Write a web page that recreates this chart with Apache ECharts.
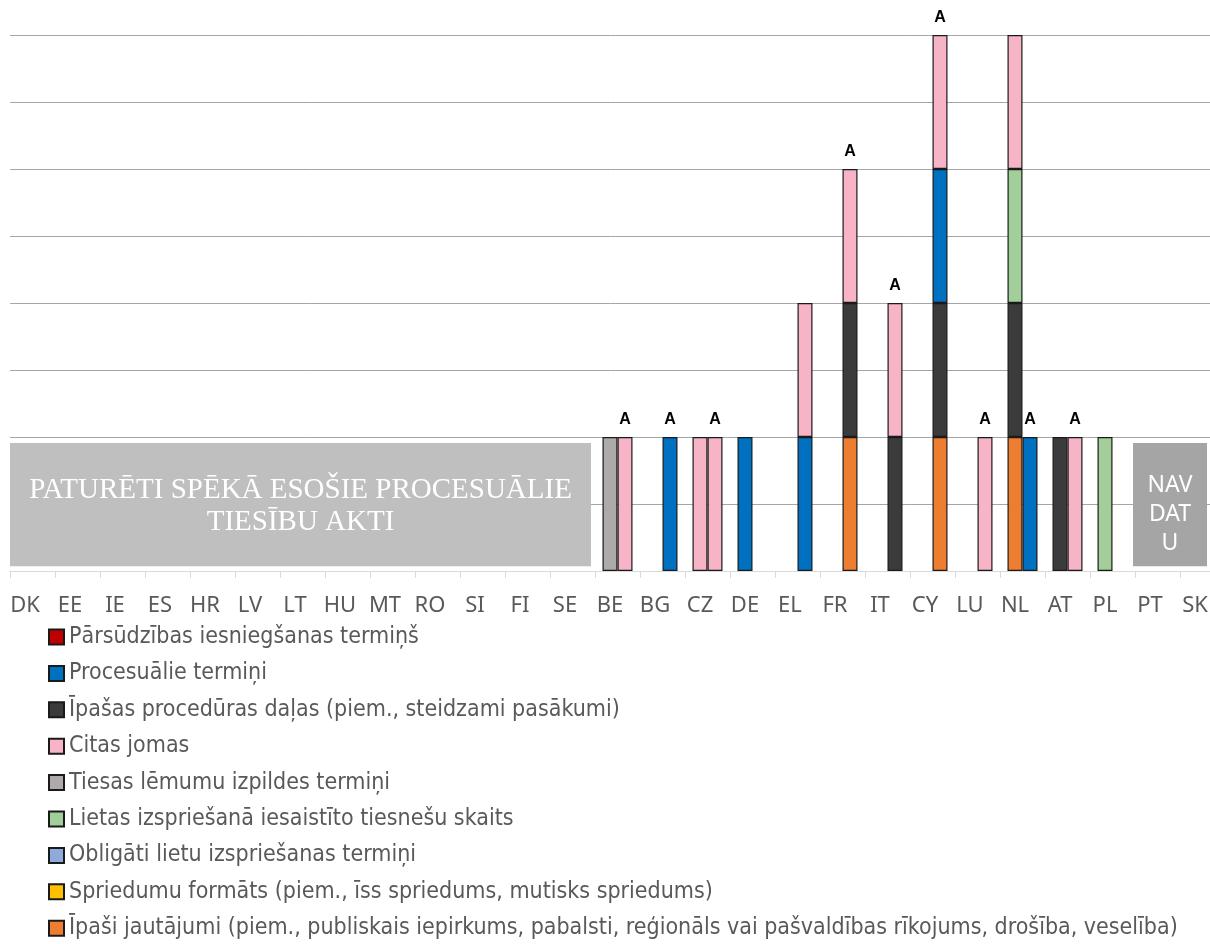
<!DOCTYPE html>
<html>
<head>
<meta charset="utf-8">
<script src="https://cdn.jsdelivr.net/npm/echarts@6/dist/echarts.min.js"></script>
<style>
  html, body { margin: 0; padding: 0; background: #fff; }
  #chart { width: 1210px; height: 944px; }
</style>
</head>
<body>
<div id="chart"></div>
<script>
// Member states along the category axis
const countries = ['DK','EE','IE','ES','HR','LV','LT','HU','MT','RO','SI','FI','SE',
                   'BE','BG','CZ','DE','EL','FR','IT','CY','LU','NL','AT','PL','PT','SK'];

// Measure types (legend order)
const measureNames = [
  'Pārsūdzības iesniegšanas termiņš',
  'Procesuālie termiņi',
  'Īpašas procedūras daļas (piem., steidzami pasākumi)',
  'Citas jomas',
  'Tiesas lēmumu izpildes termiņi',
  'Lietas izspriešanā iesaistīto tiesnešu skaits',
  'Obligāti lietu izspriešanas termiņi',
  'Spriedumu formāts (piem., īss spriedums, mutisks spriedums)',
  'Īpaši jautājumi (piem., publiskais iepirkums, pabalsti, reģionāls vai pašvaldības rīkojums, drošība, veselība)'
];

// Left column of each country (one unit per measure)
//                          DK EE IE ES HR LV LT HU MT RO SI FI SE BE BG CZ DE EL FR IT CY LU NL AT PL PT SK
const leftIpasiJautajumi = [0, 0, 0, 0, 0, 0, 0, 0, 0, 0, 0, 0, 0, 0, 0, 0, 0, 0, 0, 0, 0, 0, 1, 0, 0, 0, 0];
const leftProceduras     = [0, 0, 0, 0, 0, 0, 0, 0, 0, 0, 0, 0, 0, 0, 0, 0, 0, 0, 0, 0, 0, 0, 1, 1, 0, 0, 0];
const leftProcesualie    = [0, 0, 0, 0, 0, 0, 0, 0, 0, 0, 0, 0, 0, 0, 0, 0, 1, 0, 0, 0, 0, 0, 0, 0, 0, 0, 0];
const leftTiesnesi       = [0, 0, 0, 0, 0, 0, 0, 0, 0, 0, 0, 0, 0, 0, 0, 0, 0, 0, 0, 0, 0, 0, 1, 0, 1, 0, 0];
const leftIzpilde        = [0, 0, 0, 0, 0, 0, 0, 0, 0, 0, 0, 0, 0, 1, 0, 0, 0, 0, 0, 0, 0, 0, 0, 0, 0, 0, 0];
const leftCitas          = [0, 0, 0, 0, 0, 0, 0, 0, 0, 0, 0, 0, 0, 0, 0, 1, 0, 0, 0, 0, 0, 0, 1, 0, 0, 0, 0];

// Right column of each country
//                           DK EE IE ES HR LV LT HU MT RO SI FI SE BE BG CZ DE EL FR IT CY LU NL AT PL PT SK
const rightIpasiJautajumi = [0, 0, 0, 0, 0, 0, 0, 0, 0, 0, 0, 0, 0, 0, 0, 0, 0, 0, 1, 0, 1, 0, 0, 0, 0, 0, 0];
const rightProceduras     = [0, 0, 0, 0, 0, 0, 0, 0, 0, 0, 0, 0, 0, 0, 0, 0, 0, 0, 1, 1, 1, 0, 0, 0, 0, 0, 0];
const rightProcesualie    = [0, 0, 0, 0, 0, 0, 0, 0, 0, 0, 0, 0, 0, 0, 1, 0, 0, 1, 0, 0, 1, 0, 1, 0, 0, 0, 0];
const rightCitas          = [0, 0, 0, 0, 0, 0, 0, 0, 0, 0, 0, 0, 0, 1, 0, 1, 0, 1, 1, 1, 1, 1, 0, 1, 0, 0, 0];

// Countries whose right column carries the "A" note
const notedA = ['BE','BG','CZ','FR','IT','CY','LU','NL','AT'];

// Countries covered by the grey notes
const keptLawCountries = ['DK','SE'];
const noDataCountries = ['PT','SK'];

const colors = {
  red: '#c00000', blue: '#0070c0', dark: '#3b3b3b', pink: '#f8b4c7',
  grey: '#aeaaaa', green: '#a2cf99', lightBlue: '#8eaadb', yellow: '#ffc000', orange: '#ed7d31'
};

const toBar = arr => arr.map(v => (v ? v : '-'));

function barSeries(name, stack, values, color) {
  return {
    type: 'bar', name, stack, data: toBar(values),
    barWidth: 15, barGap: '0%',
    itemStyle: { color, borderColor: '#1a1a1a', borderWidth: 1.2 },
    emphasis: { disabled: true }
  };
}

const empty = countries.map(() => 0);

const series = [
  // left column, bottom to top
  barSeries(measureNames[8], 'L', leftIpasiJautajumi, colors.orange),
  barSeries(measureNames[2], 'L', leftProceduras, colors.dark),
  barSeries(measureNames[1], 'L', leftProcesualie, colors.blue),
  barSeries(measureNames[5], 'L', leftTiesnesi, colors.green),
  barSeries(measureNames[4], 'L', leftIzpilde, colors.grey),
  barSeries(measureNames[3], 'L', leftCitas, colors.pink),
  // measures with no entries (legend only)
  barSeries(measureNames[0], 'L', empty, colors.red),
  barSeries(measureNames[6], 'L', empty, colors.lightBlue),
  barSeries(measureNames[7], 'L', empty, colors.yellow),
  // right column, bottom to top
  barSeries(measureNames[8], 'R', rightIpasiJautajumi, colors.orange),
  barSeries(measureNames[2], 'R', rightProceduras, colors.dark),
  barSeries(measureNames[1], 'R', rightProcesualie, colors.blue),
  barSeries(measureNames[3], 'R', rightCitas, colors.pink),
  // "A" note sitting on top of the right column
  {
    type: 'bar', name: 'noteA', stack: 'R', barWidth: 15, barGap: '0%',
    data: countries.map(c => (notedA.includes(c) ? 0 : '-')),
    itemStyle: { color: 'transparent', borderWidth: 0 },
    label: {
      show: true, position: 'top', distance: 9, formatter: 'A',
      fontFamily: '"Liberation Sans", Arial, sans-serif', fontWeight: 'bold',
      fontSize: 16, color: '#000'
    },
    emphasis: { disabled: true },
    silent: true
  }
];

const option = {
  animation: false,
  backgroundColor: '#fff',
  grid: { left: 10, top: 35, width: 1215, height: 536, containLabel: false, outerBoundsMode: 'none' },
  xAxis: {
    type: 'category',
    data: countries,
    axisLine: { lineStyle: { color: '#d9d9d9', width: 1 } },
    axisTick: { show: true, length: 7, lineStyle: { color: '#d9d9d9' } },
    axisLabel: {
      interval: 0, margin: 24, color: '#595959', fontSize: 22,
      padding: [0, 15, 0, 0],
      fontFamily: '"Noto Sans", "DejaVu Sans", sans-serif'
    }
  },
  yAxis: {
    type: 'value', min: 0, max: 4, interval: 0.5,
    axisLabel: { show: false },
    axisLine: { show: false },
    axisTick: { show: false },
    splitLine: { show: true, showMinLine: false, lineStyle: { color: '#a6a6a6', width: 1 } }
  },
  legend: {
    orient: 'vertical',
    left: 48, top: 625, height: 330,
    padding: 0,
    itemWidth: 15, itemHeight: 15, itemGap: 12.4,
    icon: 'rect',
    selectedMode: false,
    data: measureNames,
    textStyle: {
      color: '#595959', fontSize: 23, lineHeight: 24,
      fontFamily: '"Liberation Sans Narrow", "DejaVu Sans Condensed", "Arial Narrow", sans-serif'
    }
  },
  series
};

const chart = echarts.init(document.getElementById('chart'), null, { renderer: 'canvas' });
chart.setOption(option);

// Grey notes laid over the plot, positioned from the axes
const cx = c => chart.convertToPixel({ xAxisIndex: 0 }, c);
const py = v => chart.convertToPixel({ yAxisIndex: 0 }, v);
const band = cx(countries[1]) - cx(countries[0]);

const keptX0 = cx(keptLawCountries[0]) - band / 2;
const keptX1 = cx(keptLawCountries[1]) + band / 2 - 4;
const noneX0 = cx(noDataCountries[0]) - band / 2 - 2;
const noneX1 = cx(noDataCountries[1]) + band / 2 - 18;
const boxTop = py(0.955);
const boxBottom = py(0.035);

chart.setOption({
  graphic: [
    {
      type: 'rect', silent: true, z: 50,
      shape: { x: keptX0, y: boxTop, width: keptX1 - keptX0, height: boxBottom - boxTop },
      style: { fill: '#bfbfbf' }
    },
    {
      type: 'text', silent: true, z: 51,
      x: (keptX0 + keptX1) / 2, y: (boxTop + boxBottom) / 2 + 2,
      style: {
        text: 'PATURĒTI SPĒKĀ ESOŠIE PROCESUĀLIE\nTIESĪBU AKTI',
        font: '29px "Liberation Serif", "Times New Roman", serif',
        lineHeight: 32, fill: '#ffffff', align: 'center', verticalAlign: 'middle'
      }
    },
    {
      type: 'rect', silent: true, z: 50,
      shape: { x: noneX0, y: boxTop, width: noneX1 - noneX0, height: boxBottom - boxTop },
      style: { fill: '#a5a5a5' }
    },
    {
      type: 'text', silent: true, z: 51,
      x: (noneX0 + noneX1) / 2, y: (boxTop + boxBottom) / 2 + 10,
      style: {
        text: 'NAV\nDAT\nU',
        font: '23px "Noto Sans", "DejaVu Sans", sans-serif',
        lineHeight: 29, fill: '#ffffff', align: 'center', verticalAlign: 'middle'
      }
    }
  ]
});
</script>
</body>
</html>
